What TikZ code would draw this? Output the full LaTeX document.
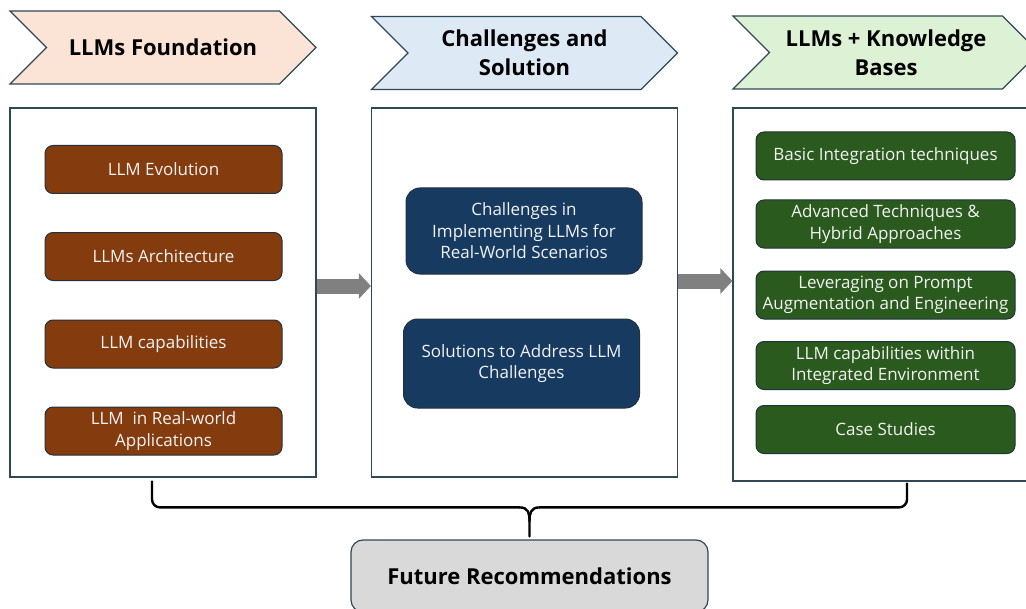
\documentclass[tikz,border=0pt]{standalone}
\usepackage{fontspec}
\setmainfont{Open Sans}
\usetikzlibrary{shapes.symbols,arrows.meta,calc}

\definecolor{framec}{HTML}{2F4858}
\definecolor{peach}{HTML}{FBE3D6}
\definecolor{skyblue}{HTML}{DDEAF6}
\definecolor{mint}{HTML}{DDF2D4}
\definecolor{rust}{HTML}{843C0F}
\definecolor{navy}{HTML}{173B60}
\definecolor{forest}{HTML}{2A5A1D}
\definecolor{softgray}{HTML}{D9D9D9}
\definecolor{arrowgray}{HTML}{808080}
\definecolor{boxtext}{HTML}{F2F2F2}

\begin{document}
\begin{tikzpicture}[x=0.5pt,y=-0.5pt,line cap=round,
    header/.style={signal, signal from=west, signal to=east, signal pointer angle=90,
      draw=framec, line width=0.6pt, minimum width=153pt, minimum height=36.5pt,
      inner sep=0pt, align=center, font=\bfseries\fontsize{11}{14.5}\selectfont},
    panel/.style={draw=framec, line width=0.6pt, minimum width=153pt, inner sep=0pt},
    item/.style={draw=framec!70!black, line width=0.5pt, text=boxtext, align=center,
      inner sep=0pt, font=\fontsize{8.5}{10.8}\selectfont},
    brownitem/.style={item, fill=rust, rounded corners=4pt, minimum width=118.5pt, minimum height=24pt},
    blueitem/.style={item, fill=navy, rounded corners=7pt, minimum width=118pt},
    greenitem/.style={item, fill=forest, rounded corners=4pt, minimum width=129.5pt, minimum height=24pt},
    bigarrow/.style={draw=arrowgray, line width=7.5pt, line cap=butt,
      -{Triangle[length=6pt,width=12.5pt]}},
    brace/.style={draw=black, line width=1.2pt}]
  \useasboundingbox (0,0) rectangle (1026,609);

  % headers
  \node[header, fill=peach] (h1) at (163,47.5) {LLMs Foundation};
  \node[header, fill=skyblue] (h2) at (524.5,53) {Challenges and\\Solution};
  \node[header, fill=mint] (h3) at (886,52.5) {LLMs + Knowledge\\Bases};

  % panels
  \node[panel, minimum height=184.5pt] (lp) at (163,292.5) {};
  \node[panel, minimum height=184.5pt] (mp) at (524.5,292.5) {};
  \node[panel, minimum height=186.5pt] (rp) at (886,294.5) {};

  % left column
  \node[brownitem] (l1) at (163.5,169.5) {LLM Evolution};
  \node[brownitem] (l2) at (163.5,256.5) {LLMs Architecture};
  \node[brownitem] (l3) at (163.5,344) {LLM capabilities};
  \node[brownitem] (l4) at (163.5,431) {LLM\ \ in Real-world\\Applications};

  % middle column
  \node[blueitem, minimum height=43pt] (m1) at (524,231)
    {Challenges in\\Implementing LLMs for\\Real-World Scenarios};
  \node[blueitem, minimum height=44.5pt] (m2) at (521.5,363.5)
    {Solutions to Address LLM\\Challenges};

  % right column
  \node[greenitem] (r1) at (885.5,156) {Basic Integration techniques};
  \node[greenitem] (r2) at (885.5,224) {Advanced Techniques \&\\Hybrid Approaches};
  \node[greenitem] (r3) at (885.5,295) {Leveraging on Prompt\\Augmentation and Engineering};
  \node[greenitem] (r4) at (885.5,365.5) {LLM capabilities within\\Integrated Environment};
  \node[greenitem] (r5) at (885.5,429.5) {Case Studies};

  % flow arrows
  \draw[bigarrow] ($(lp.east)+(0,-6.5)$) -- ($(mp.west)+(0,-6.5)$);
  \draw[bigarrow] ($(mp.east)+(0,-11.5)$) -- ($(rp.west)+(0,-13.5)$);

  % outcome
  \node[draw=framec, line width=0.6pt, fill=softgray, rounded corners=6pt,
    minimum width=178.5pt, minimum height=36pt,
    font=\bfseries\fontsize{11}{13}\selectfont] (fr) at (529.5,576) {Future Recommendations};

  % brace
  \coordinate (bl) at ($(lp.south)+(-11,4)$);
  \coordinate (br) at ($(rp.south)+(21,2)$);
  \coordinate (ml) at ($(fr.north)+(-10,-32)$);
  \coordinate (mr) at ($(fr.north)+(10,-32)$);
  \coordinate (stem) at ($(fr.north)+(0,-18)$);
  \coordinate (tip) at ($(fr.north)+(0,-3)$);
  \draw[brace, rounded corners=4pt] (bl) |- (ml);
  \draw[brace, rounded corners=4pt] (br) |- (mr);
  \draw[brace] (ml) .. controls ($(ml)+(9,0)$) and ($(stem)+(0,-8)$) .. (stem) -- (tip);
  \draw[brace] (mr) .. controls ($(mr)+(-9,0)$) and ($(stem)+(0,-8)$) .. (stem);
\end{tikzpicture}
\end{document}
